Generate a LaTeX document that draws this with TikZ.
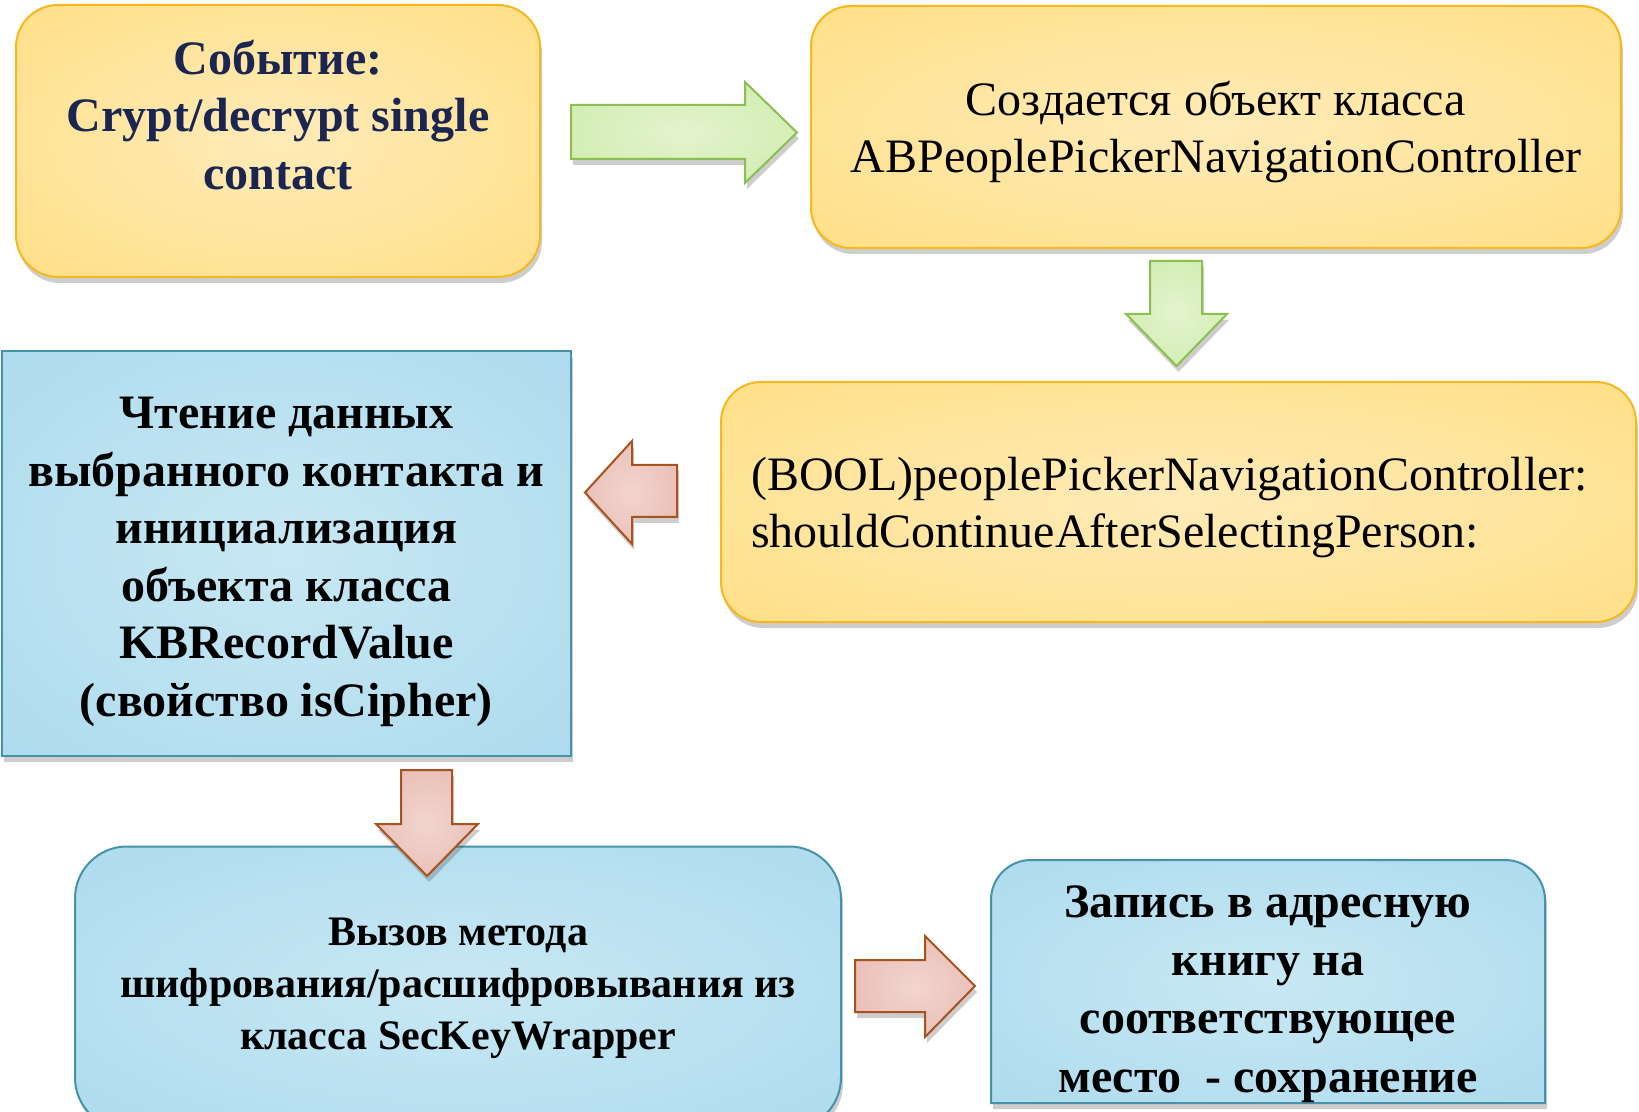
\documentclass[tikz,border=0pt]{standalone}
\usepackage{fontspec}
\setmainfont{Liberation Serif}
\usetikzlibrary{shadows}
\definecolor{YellowIn}{HTML}{FFEBB8}
\definecolor{YellowOut}{HTML}{FFDA73}
\definecolor{YellowEdge}{HTML}{F6B81E}
\definecolor{BlueIn}{HTML}{C8E8F4}
\definecolor{BlueOut}{HTML}{A3D6EB}
\definecolor{BlueEdge}{HTML}{4493AB}
\definecolor{GreenIn}{HTML}{E3F4CE}
\definecolor{GreenOut}{HTML}{C6E79E}
\definecolor{GreenEdge}{HTML}{8CBE50}
\definecolor{RedIn}{HTML}{F2D5D0}
\definecolor{RedOut}{HTML}{E2ADA3}
\definecolor{RedEdge}{HTML}{A8531D}
\definecolor{Navy}{HTML}{1B2552}
\pgfdeclareradialshading{yellowglow}{\pgfpoint{0bp}{0bp}}{color(0bp)=(YellowIn); color(50bp)=(YellowOut)}
\pgfdeclareradialshading{blueglow}{\pgfpoint{0bp}{0bp}}{color(0bp)=(BlueIn); color(50bp)=(BlueOut)}
\pgfdeclareradialshading{greenglow}{\pgfpoint{0bp}{0bp}}{color(0bp)=(GreenIn); color(50bp)=(GreenOut)}
\pgfdeclareradialshading{redglow}{\pgfpoint{0bp}{0bp}}{color(0bp)=(RedIn); color(50bp)=(RedOut)}

\begin{document}
\begin{tikzpicture}[x=0.5pt,y=-0.5pt,
  softshadow/.style={drop shadow={shadow xshift=1pt,shadow yshift=-3pt,opacity=0.28,fill=black!70}},
  yellowbox/.style={rectangle,rounded corners=20pt,draw=YellowEdge,line width=1pt,
    shade,shading=yellowglow,softshadow,inner sep=0pt},
  bluefill/.style={draw=BlueEdge,line width=1pt,shade,shading=blueglow,softshadow},
  bluebox/.style={rectangle,bluefill,inner sep=0pt},
  greenarrow/.style={draw=GreenEdge,line width=1pt,line join=miter,shade,shading=greenglow,softshadow},
  redarrow/.style={draw=RedEdge,line width=1pt,line join=miter,shade,shading=redglow,softshadow},
  plaintext/.style={font=\fontsize{24}{28.6}\selectfont},
  boldtext/.style={font=\bfseries\fontsize{24}{28.75}\selectfont,align=center}]
  \useasboundingbox (0,0) rectangle (1639,1112);
  % top row
  \node[yellowbox,minimum width=262pt,minimum height=136pt,rounded corners=21pt] (event) at (278,141) {};
  \node[boldtext,text=Navy] (eventtxt) at (278,115) {Событие:\\Crypt/decrypt single\\contact};
  \node[yellowbox,minimum width=405pt,minimum height=121pt] (picker) at (1216,127) {};
  \node[plaintext,align=center] (pickertxt) at (1216,132)
    {Создается объект класса\\ABPeoplePickerNavigationController};
  % middle row
  \node[yellowbox,minimum width=457.5pt,minimum height=120pt] (delegate) at (1178.5,502) {};
  \node[plaintext,align=left,anchor=west] (delegatetxt) at (744,507.5)
    {(BOOL)peoplePickerNavigationController:\\shouldContinueAfterSelectingPerson:};
  \node[bluebox,minimum width=284.5pt,minimum height=202.5pt] (reading) at (286.5,553.5) {};
  \node[boldtext] (readingtxt) at (286.5,562)
    {Чтение данных\\выбранного контакта и\\инициализация\\объекта класса\\KBRecordValue\\(свойство isCipher)};
  % bottom row
  \node[bluebox,rounded corners=26pt,minimum width=383pt,minimum height=141.5pt,
    font=\bfseries\fontsize{21}{26}\selectfont,align=center] (cipher) at (458,988)
    {Вызов метода\\шифрования/расшифровывания из\\класса SecKeyWrapper};
  \path[bluefill] (991,1103) [rounded corners=20pt] -- (991,860) -- (1545,860)
    [sharp corners] -- (1545,1103) -- cycle;
  \node[boldtext,font=\bfseries\fontsize{24}{29.2}\selectfont] (savetxt) at (1268,994)
    {Запись в адресную\\книгу на\\соответствующее\\место \ - сохранение};
  % block arrows
  \draw[greenarrow] (571,105) -- (745,105) -- (745,82) -- (797,132.5) -- (745,183) -- (745,159) -- (571,159) -- cycle;
  \draw[greenarrow] (1150,261) -- (1202,261) -- (1202,314) -- (1227,314) -- (1176.5,366) -- (1126,314) -- (1150,314) -- cycle;
  \draw[redarrow] (677,465) -- (632,465) -- (632,441) -- (585,492.5) -- (632,544) -- (632,517) -- (677,517) -- cycle;
  \draw[redarrow] (401,770) -- (452,770) -- (452,824) -- (478,824) -- (427,876) -- (376,824) -- (401,824) -- cycle;
  \draw[redarrow] (855,960) -- (925,960) -- (925,936) -- (975,986) -- (925,1037) -- (925,1012) -- (855,1012) -- cycle;
\end{tikzpicture}
\end{document}
